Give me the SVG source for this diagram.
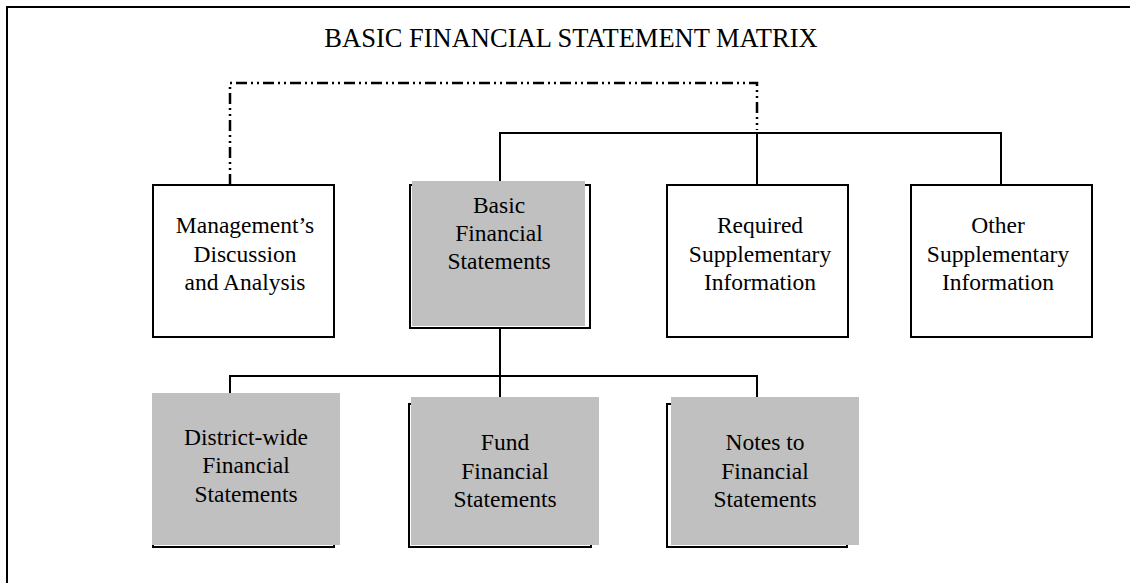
<svg xmlns="http://www.w3.org/2000/svg" width="1130" height="583" viewBox="0 0 1130 583">
<style>
.t{font-family:"Liberation Serif","Times New Roman",serif;font-size:23.5px;fill:#000;text-anchor:middle}
.title{font-family:"Liberation Serif","Times New Roman",serif;font-size:26.5px;fill:#000;text-anchor:middle}
.box{fill:#fff;stroke:#000;stroke-width:2}
.ol{fill:none;stroke:#000;stroke-width:2}
.gray{fill:#c0c0c0;stroke:none}
.ln{fill:none;stroke:#000;stroke-width:2}
.dd{fill:none;stroke:#000;stroke-width:2.5;stroke-dasharray:11 4 2 4 2 4}
</style>
<rect x="0" y="0" width="1130" height="583" fill="#fff"/>
<g id="frame">
<path d="M7,583 V7 H1130" fill="none" stroke="#000" stroke-width="2"/>
</g>
<text class="title" x="571" y="47">BASIC FINANCIAL STATEMENT MATRIX</text>
<g id="connectors">
<path class="dd" d="M230,185 V83 H757 V130"/>
<path class="ln" d="M500,181 V133 H1001 V185 M757,133 V185"/>
<path class="ln" d="M500,328 V376 M230,393 V376 H757 V397 M500,376 V397"/>
</g>
<g id="mda">
<rect class="box" x="153" y="185" width="181" height="152"/>
<text class="t" x="245" y="233">Management’s</text>
<text class="t" x="245" y="262">Discussion</text>
<text class="t" x="245" y="290">and Analysis</text>
</g>
<g id="basic">
<rect class="ol" x="410" y="185" width="180" height="143"/>
<rect class="gray" x="412" y="181" width="173" height="145"/>
<text class="t" x="499" y="213">Basic</text>
<text class="t" x="499" y="241">Financial</text>
<text class="t" x="499" y="269">Statements</text>
</g>
<g id="rsi">
<rect class="box" x="667" y="185" width="181" height="152"/>
<text class="t" x="760" y="233">Required</text>
<text class="t" x="760" y="262">Supplementary</text>
<text class="t" x="760" y="290">Information</text>
</g>
<g id="osi">
<rect class="box" x="911" y="185" width="181" height="152"/>
<text class="t" x="998" y="233">Other</text>
<text class="t" x="998" y="262">Supplementary</text>
<text class="t" x="998" y="290">Information</text>
</g>
<g id="district">
<rect class="ol" x="153" y="400" width="181" height="147"/>
<rect class="gray" x="152" y="393" width="188" height="152"/>
<text class="t" x="246" y="445">District-wide</text>
<text class="t" x="246" y="473">Financial</text>
<text class="t" x="246" y="502">Statements</text>
</g>
<g id="fund">
<rect class="ol" x="409" y="404" width="182" height="143"/>
<rect class="gray" x="411" y="397" width="188" height="148"/>
<text class="t" x="505" y="450">Fund</text>
<text class="t" x="505" y="479">Financial</text>
<text class="t" x="505" y="507">Statements</text>
</g>
<g id="notes">
<rect class="ol" x="667" y="404" width="180" height="143"/>
<rect class="gray" x="671" y="397" width="188" height="148"/>
<text class="t" x="765" y="450">Notes to</text>
<text class="t" x="765" y="479">Financial</text>
<text class="t" x="765" y="507">Statements</text>
</g>
</svg>
